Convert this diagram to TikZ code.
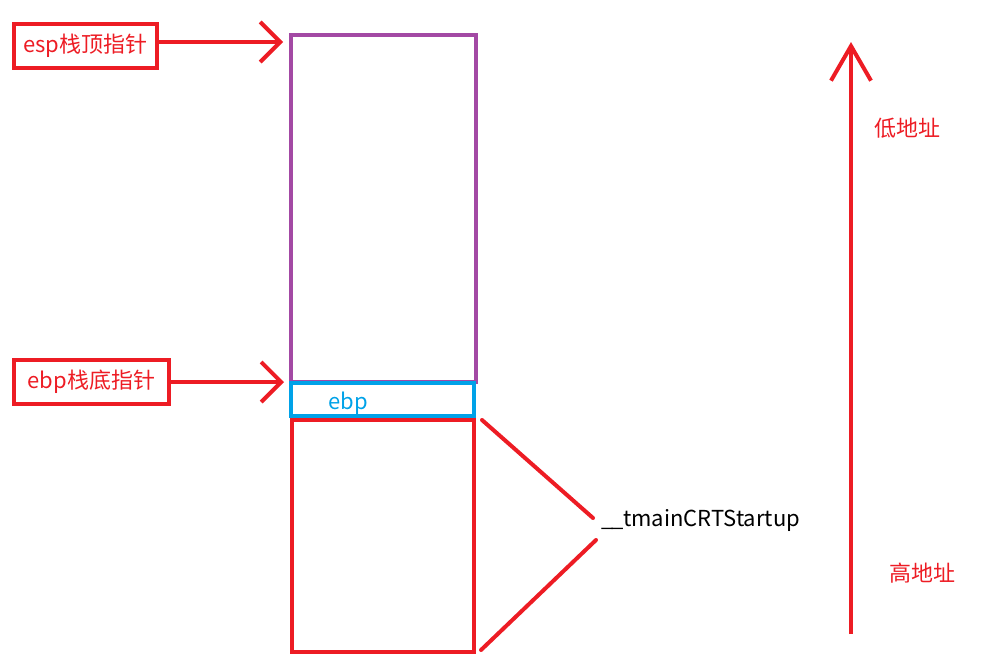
\documentclass[tikz,border=0pt]{standalone}
\usepackage{fontspec}
\setmainfont{Noto Sans CJK SC}
\usetikzlibrary{arrows.meta}
\definecolor{pred}{HTML}{ED1C24}
\definecolor{ppurple}{HTML}{A349A4}
\definecolor{pblue}{HTML}{00A2E8}
\tikzset{
  lbl/.style={draw=pred, line width=3pt, text=pred, font=\fontsize{16.5pt}{18pt}\selectfont, inner sep=0pt, anchor=center},
  ptr/.style={pred, line width=3pt, -{Straight Barb[length=15pt, width=30pt, line width=3pt]}},
  seg/.style={pred, line width=3pt, line cap=round},
  txt/.style={font=\fontsize{16.5pt}{18pt}\selectfont, inner sep=0pt}
}
\begin{document}
\begin{tikzpicture}[x=0.75pt, y=-0.75pt]
\useasboundingbox (0,0) rectangle (981,661);
% stack blocks
\draw[ppurple, line width=3pt] (291,35) rectangle (476,382);
\node[draw=pblue, line width=3pt, minimum width=183*0.75pt, minimum height=33*0.75pt, inner sep=0pt] (ebpbox) at (382.5,399.5) {};
\node[txt, text=pblue] (ebptxt) at (348,403) {ebp};
\node[draw=pred, line width=3pt, minimum width=182*0.75pt, minimum height=232*0.75pt, inner sep=0pt] (main) at (383,536) {};
% pointer labels
\node[lbl, minimum width=143*0.75pt, minimum height=44*0.75pt] (esp) at (85.5,46) {esp栈顶指针};
\coordinate (esptip) at (283,42);
\draw[ptr] (esp.east |- esptip) -- (esptip);
\node[lbl, minimum width=155*0.75pt, minimum height=44*0.75pt] (ebp) at (91.5,382) {ebp栈底指针};
\coordinate (ebptip) at (284,382);
\draw[ptr] (ebp.east) -- (ebptip);
% tmainCRTStartup
\node[txt, anchor=west] (crt) at (601,520) {\_\kern-1.5pt\_\kern-0.5pt tmainCRTStartup};
\coordinate (a1) at (482,420);
\coordinate (a2) at (593,518);
\coordinate (b1) at (596,540);
\coordinate (b2) at (481,650);
\draw[seg] (a1) -- (a2);
\draw[seg] (b1) -- (b2);
% address arrow
\coordinate (lo) at (851,42);
\coordinate (hi) at (851,634);
\draw[pred, line width=3.2pt, -{Straight Barb[length=26pt, width=30pt, line width=3pt]}] (hi) -- (lo);
\node[txt, text=pred] (low) at (907,128) {低地址};
\node[txt, text=pred] (high) at (922,573) {高地址};
\end{tikzpicture}
\end{document}
